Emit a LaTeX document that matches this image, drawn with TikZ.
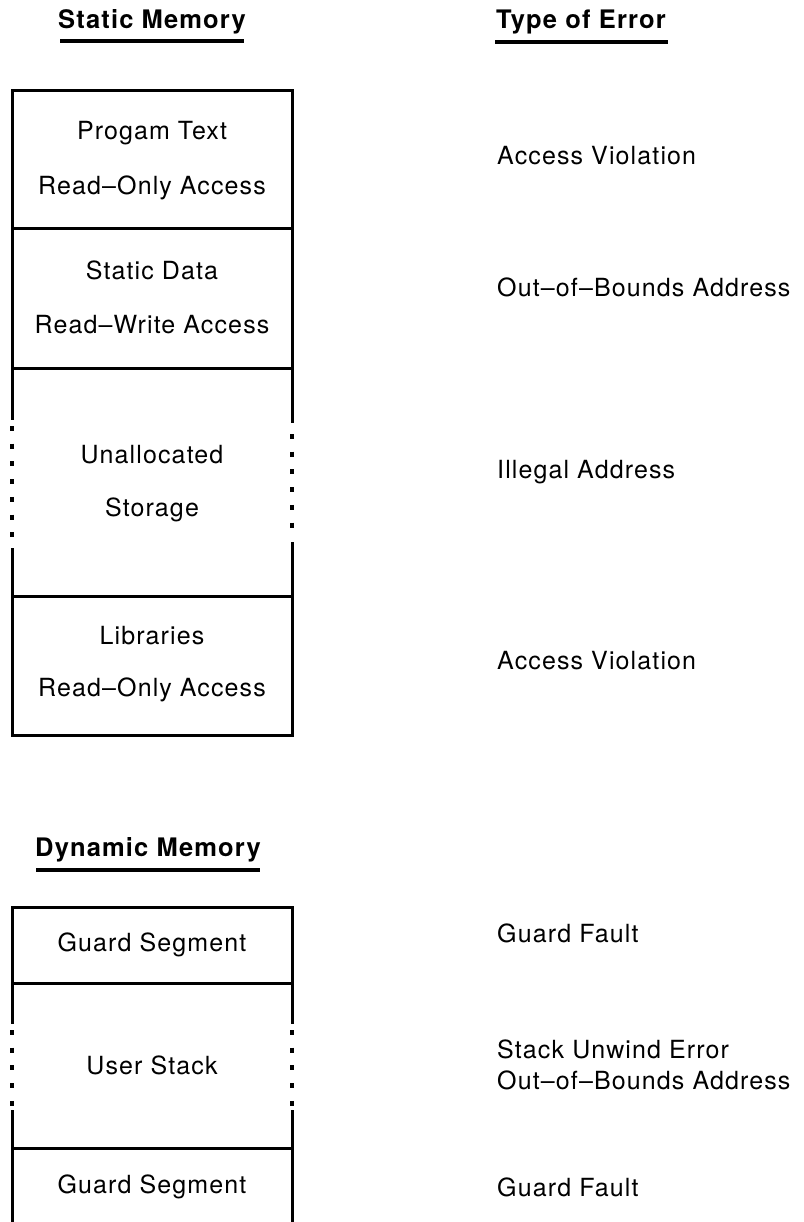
\documentclass[tikz,border=0pt]{standalone}
\usepackage{fontspec}
\setmainfont{TeX Gyre Heros}[LetterSpace=4.5]
\begin{document}
\begin{tikzpicture}[x=1pt,y=-1pt,
  lbl/.style={font=\fontsize{25}{28}\selectfont, inner sep=0pt, align=center},
  err/.style={font=\fontsize{25}{31}\selectfont, inner sep=0pt, anchor=west, align=left},
  head/.style={font=\fontsize{25.5}{28}\selectfont\bfseries, inner sep=0pt},
  wall/.style={line width=3pt},
  dotwall/.style={line width=3.4pt, dash pattern=on 5pt off 12.7pt},
  uline/.style={line width=4pt}]
\useasboundingbox (0,0) rectangle (803,1222);

% headings
\node[head] (hs) at (152,22) {Static Memory};
\node[head] (he) at (581,22) {Type of Error};
\node[head] (hd) at (148,850) {Dynamic Memory};
\draw[uline] (60,41) -- (244,41);
\draw[uline] (495,42) -- (668,42);
\draw[uline] (36,870) -- (260,870);

% static memory box
\draw[wall] (12,368) -- (12,91) -- (292,91) -- (292,368);
\draw[wall] (12,229) -- (292,229);
\draw[wall] (12,368) -- (292,368);
\draw[wall] (12,368) -- (12,420);
\draw[dotwall] (12,426) -- (12,545);
\draw[wall] (12,548) -- (12,735) -- (292,735) -- (292,542);
\draw[wall] (292,368) -- (292,423);
\draw[dotwall] (292,434) -- (292,540);
\draw[wall] (12,596) -- (292,596);

\node[lbl] (p1) at (152,133) {Progam Text};
\node[lbl] (p2) at (152,188) {Read--Only Access};
\node[lbl] (s1) at (152,270) {Static Data};
\node[lbl] (s2) at (152,325) {Read--Write Access};
\node[lbl] (u1) at (152,455) {Unallocated};
\node[lbl] (u2) at (152,510) {Storage};
\node[lbl] (l1) at (152,636) {Libraries};
\node[lbl] (l2) at (152,690) {Read--Only Access};

\node[err] (e1) at (497,156) {Access Violation};
\node[err] (e2) at (497,287) {Out--of--Bounds Address};
\node[err] (e3) at (497,472) {Illegal Address};
\node[err] (e4) at (497,661) {Access Violation};

% dynamic memory box
\draw[wall] (12,983) -- (12,907) -- (292,907) -- (292,983);
\draw[wall] (12,983) -- (292,983);
\draw[wall] (12,983) -- (12,1024);
\draw[dotwall] (12,1030) -- (12,1108);
\draw[wall] (12,1110) -- (12,1222);
\draw[wall] (292,983) -- (292,1024);
\draw[dotwall] (292,1030) -- (292,1108);
\draw[wall] (292,1110) -- (292,1222);
\draw[wall] (12,1148) -- (292,1148);

\node[lbl] (g1) at (152,945) {Guard Segment};
\node[lbl] (us) at (152,1065) {User Stack};
\node[lbl] (g2) at (152,1187) {Guard Segment};

\node[err] (f1) at (497,933) {Guard Fault};
\node[err] (f2) at (497,1065) {Stack Unwind Error\\Out--of--Bounds Address};
\node[err] (f3) at (497,1187) {Guard Fault};
\end{tikzpicture}
\end{document}
